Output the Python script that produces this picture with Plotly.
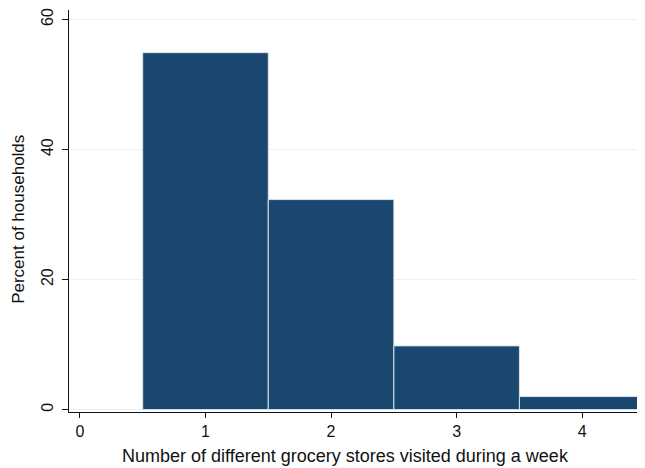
import plotly.graph_objects as go

stores = [1, 2, 3, 4]
percent = [54.9, 32.3, 9.8, 2.0]
x_ticks = [0, 1, 2, 3, 4]
y_ticks = [0, 20, 40, 60]
x_title = "Number of different grocery stores visited during a week"
y_title = "Percent of households"

font = "Liberation Sans, Arial, sans-serif"
ink = "#111111"

fig = go.Figure(
    go.Bar(
        x=stores,
        y=percent,
        width=1,
        marker=dict(color="#1a476f", line=dict(color="#d6e2ea", width=1)),
    )
)

fig.update_layout(
    width=637,
    height=460,
    margin=dict(l=61, r=0, t=0, b=56.3),
    paper_bgcolor="white",
    plot_bgcolor="white",
    showlegend=False,
    font=dict(family=font, color=ink),
    annotations=[
        dict(text=x_title, xref="paper", yref="paper", x=0.48, y=0,
             xanchor="center", yanchor="middle", yshift=-44, showarrow=False,
             font=dict(size=18, family=font, color=ink)),
        dict(text=y_title, xref="paper", yref="paper", x=0, y=0.478,
             xanchor="center", yanchor="middle", xshift=-50, textangle=-90,
             showarrow=False, font=dict(size=17, family=font, color=ink)),
    ],
)

fig.update_xaxes(
    range=[-0.087, 4.5],
    tickvals=x_ticks,
    ticktext=[str(v) for v in x_ticks],
    ticks="outside",
    ticklen=5,
    tickcolor=ink,
    tickfont=dict(size=16, family=font, color=ink),
    ticklabelstandoff=0,
    showgrid=False,
    zeroline=False,
    showline=True,
    linecolor=ink,
    linewidth=1,
)

fig.update_yaxes(
    range=[-0.37, 61.46],
    tickvals=y_ticks,
    ticktext=[str(v) for v in y_ticks],
    tickangle=-90,
    ticks="outside",
    ticklen=6,
    tickcolor=ink,
    tickfont=dict(size=16, family=font, color=ink),
    ticklabelstandoff=3,
    ticklabeloverflow="allow",
    showgrid=True,
    gridcolor="#eaf2f3",
    gridwidth=1,
    zeroline=False,
    showline=True,
    linecolor=ink,
    linewidth=1,
)

fig.write_html("out.html")
